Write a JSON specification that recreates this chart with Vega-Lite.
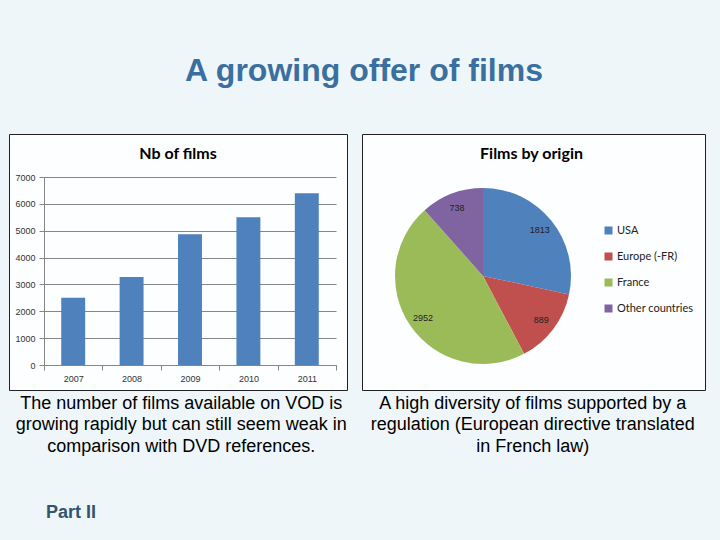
{
  "$schema": "https://vega.github.io/schema/vega-lite/v6.json",
  "background": "#eef6f9",
  "padding": {"left": 8, "top": 54, "right": 18, "bottom": 21},
  "title": {"text": "A growing offer of films", "font": "Liberation Sans", "fontSize": 32, "fontWeight": "bold", "color": "#3b6f9f", "anchor": "middle", "dx": 7, "offset": 46},
  "spacing": 2,
  "vconcat": [
    {
      "spacing": 13,
      "hconcat": [
        {
          "width": 338,
          "height": 256,
          "title": {"text": "Nb of films", "font": "Lato", "fontSize": 16, "fontWeight": "bold", "color": "#000", "offset": -28, "frame": "group", "anchor": "middle"},
          "data": {"values": [
            {"year": "2007", "films": 2500},
            {"year": "2008", "films": 3280},
            {"year": "2009", "films": 4870},
            {"year": "2010", "films": 5500},
            {"year": "2011", "films": 6392}
          ]},
          "mark": {"type": "bar", "color": "#4F81BD", "width": {"band": 0.41}},
          "encoding": {
            "x": {"field": "year", "type": "ordinal", "scale": {"range": [35, 327], "paddingInner": 0, "paddingOuter": 0},
              "axis": {"orient": "bottom", "offset": -25, "title": null, "labelAngle": 0, "tickBand": "extent", "tickSize": 5, "tickColor": "#868686", "domainColor": "#868686", "labelFontSize": 9, "labelFont": "Liberation Sans", "labelColor": "#333", "labelPadding": 4, "grid": false}},
            "y": {"field": "films", "type": "quantitative", "scale": {"domain": [0, 7000], "range": [231, 43], "nice": false},
              "axis": {"orient": "left", "offset": -35, "values": [0, 1000, 2000, 3000, 4000, 5000, 6000, 7000], "format": "d", "title": null, "tickSize": 5, "tickColor": "#868686", "domainColor": "#868686", "grid": true, "gridColor": "#868686", "labelFontSize": 9, "labelFont": "Liberation Sans", "labelColor": "#333", "labelPadding": 4}}
          }
        },
        {
          "width": 343,
          "height": 256,
          "title": {"text": "Films by origin", "font": "Lato", "fontSize": 16, "fontWeight": "bold", "color": "#000", "offset": -28, "frame": "group", "anchor": "middle", "dx": -2},
          "data": {"values": [
            {"origin": "USA", "films": 1813, "rank": 1},
            {"origin": "Europe (-FR)", "films": 889, "rank": 2},
            {"origin": "France", "films": 2952, "rank": 3},
            {"origin": "Other countries", "films": 738, "rank": 4}
          ]},
          "encoding": {
            "theta": {"field": "films", "type": "quantitative", "stack": true},
            "order": {"field": "rank", "type": "quantitative"},
            "x": {"datum": "pie", "type": "nominal", "scale": {"type": "point", "range": [0, 242]}, "axis": null},
            "y": {"datum": "pie", "type": "nominal", "scale": {"type": "point", "range": [0, 284]}, "axis": null}
          },
          "layer": [
            {
              "mark": {"type": "arc", "outerRadius": 88},
              "encoding": {
                "color": {"field": "origin", "type": "nominal",
                  "scale": {"domain": ["USA", "Europe (-FR)", "France", "Other countries"], "range": ["#4F81BD", "#C0504D", "#9BBB59", "#8064A2"]},
                  "legend": {"orient": "none", "legendX": 594, "legendY": 91, "title": null, "symbolType": "square", "symbolSize": 64, "symbolStrokeWidth": 0, "labelFont": "Lato", "labelFontSize": 11, "labelColor": "#222", "rowPadding": 14, "labelOffset": 3}}
              }
            },
            {
              "mark": {"type": "text", "radius": 73, "fontSize": 9, "font": "Liberation Sans", "color": "#222"},
              "encoding": {"text": {"field": "films", "type": "quantitative"}}
            }
          ]
        }
      ]
    },
    {
      "width": 696,
      "height": 64.5,
      "view": {"stroke": null, "fill": null},
      "title": {"text": "Part II", "orient": "bottom", "anchor": "start", "frame": "group", "font": "Liberation Sans", "fontSize": 18, "fontWeight": "bold", "color": "#33546e", "dx": 37, "offset": 46},
      "data": {"values": [
        {"panel": "Nb of films", "line": 1, "text": "The number of films available on VOD is"},
        {"panel": "Nb of films", "line": 2, "text": "growing rapidly but can still seem weak in"},
        {"panel": "Nb of films", "line": 3, "text": "comparison with DVD references."},
        {"panel": "Films by origin", "line": 1, "text": "A high diversity of films supported by a"},
        {"panel": "Films by origin", "line": 2, "text": "regulation (European directive translated"},
        {"panel": "Films by origin", "line": 3, "text": "in French law)"}
      ]},
      "mark": {"type": "text", "font": "Liberation Sans", "fontSize": 18, "color": "#000", "align": "center", "baseline": "middle"},
      "encoding": {
        "x": {"field": "panel", "type": "nominal", "scale": {"type": "point", "domain": ["Nb of films", "Films by origin"], "padding": 0.49}, "axis": null},
        "y": {"field": "line", "type": "ordinal", "scale": {"type": "point", "padding": 0.5}, "axis": null},
        "text": {"field": "text"}
      }
    }
  ],
  "config": {
    "view": {"stroke": "#222", "strokeWidth": 1, "fill": "#fcfeff"}
  }
}
